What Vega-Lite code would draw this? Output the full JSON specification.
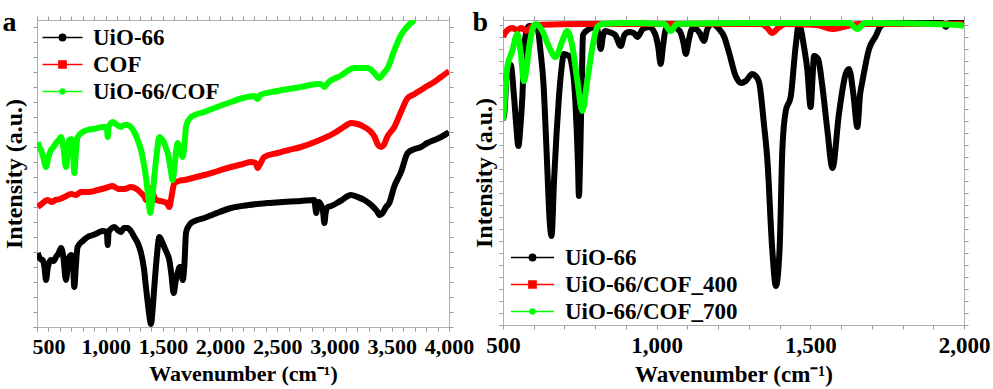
{
 "$schema": "https://vega.github.io/schema/vega-lite/v6.json",
 "padding": {"left": 2, "top": 8, "right": 2, "bottom": 0},
 "spacing": -3,
 "resolve": {"scale": {"color": "independent"}, "legend": {"color": "independent"}},
 "config": {
  "font": "Liberation Serif",
  "view": {"stroke": "#b0b0b0", "strokeWidth": 1},
  "axis": {"labelFont": "Liberation Serif", "labelFontWeight": "bold", "labelFontSize": 22, "labelColor": "#000000", "titleFont": "Liberation Serif", "titleFontWeight": "bold", "titleFontSize": 22, "titleColor": "#000000", "grid": false, "domainColor": "#b0b0b0", "tickColor": "#999999", "tickSize": 4, "labelPadding": 5, "titlePadding": 6},
  "legend": {"labelFont": "Liberation Serif", "labelFontWeight": "bold", "labelFontSize": 23, "labelColor": "#000000", "labelLimit": 400, "symbolSize": 256, "symbolStrokeWidth": 1.5, "labelOffset": 19, "rowPadding": 3, "padding": 0},
  "title": {"font": "Liberation Serif", "fontWeight": "bold", "fontSize": 28, "color": "#000000"}
 },
 "datasets": {
  "a": [
   {"sample":"UiO-66","wn":406,"intensity":74},{"sample":"UiO-66","wn":430,"intensity":68},{"sample":"UiO-66","wn":450,"intensity":67},{"sample":"UiO-66","wn":465,"intensity":60},{"sample":"UiO-66","wn":479,"intensity":47},{"sample":"UiO-66","wn":495,"intensity":60},{"sample":"UiO-66","wn":522,"intensity":67},{"sample":"UiO-66","wn":545,"intensity":66},{"sample":"UiO-66","wn":566,"intensity":70},{"sample":"UiO-66","wn":590,"intensity":74},{"sample":"UiO-66","wn":610,"intensity":79},{"sample":"UiO-66","wn":630,"intensity":70},{"sample":"UiO-66","wn":653,"intensity":47},{"sample":"UiO-66","wn":668,"intensity":60},{"sample":"UiO-66","wn":682,"intensity":70},{"sample":"UiO-66","wn":700,"intensity":72},{"sample":"UiO-66","wn":715,"intensity":62},{"sample":"UiO-66","wn":726,"intensity":40},{"sample":"UiO-66","wn":740,"intensity":62},{"sample":"UiO-66","wn":755,"intensity":80},{"sample":"UiO-66","wn":800,"intensity":86},{"sample":"UiO-66","wn":843,"intensity":90},{"sample":"UiO-66","wn":890,"intensity":92},{"sample":"UiO-66","wn":930,"intensity":94},{"sample":"UiO-66","wn":970,"intensity":96},{"sample":"UiO-66","wn":1010,"intensity":95},{"sample":"UiO-66","wn":1018,"intensity":82},{"sample":"UiO-66","wn":1026,"intensity":95},{"sample":"UiO-66","wn":1076,"intensity":100},{"sample":"UiO-66","wn":1105,"intensity":97},{"sample":"UiO-66","wn":1134,"intensity":95},{"sample":"UiO-66","wn":1160,"intensity":99},{"sample":"UiO-66","wn":1192,"intensity":99},{"sample":"UiO-66","wn":1220,"intensity":96},{"sample":"UiO-66","wn":1250,"intensity":90},{"sample":"UiO-66","wn":1280,"intensity":84},{"sample":"UiO-66","wn":1309,"intensity":74},{"sample":"UiO-66","wn":1335,"intensity":58},{"sample":"UiO-66","wn":1352,"intensity":40},{"sample":"UiO-66","wn":1368,"intensity":24},{"sample":"UiO-66","wn":1381,"intensity":12},{"sample":"UiO-66","wn":1396,"intensity":3},{"sample":"UiO-66","wn":1410,"intensity":17},{"sample":"UiO-66","wn":1425,"intensity":40},{"sample":"UiO-66","wn":1445,"intensity":68},{"sample":"UiO-66","wn":1469,"intensity":90},{"sample":"UiO-66","wn":1490,"intensity":86},{"sample":"UiO-66","wn":1512,"intensity":80},{"sample":"UiO-66","wn":1535,"intensity":74},{"sample":"UiO-66","wn":1556,"intensity":67},{"sample":"UiO-66","wn":1575,"intensity":52},{"sample":"UiO-66","wn":1594,"intensity":34},{"sample":"UiO-66","wn":1612,"intensity":46},{"sample":"UiO-66","wn":1629,"intensity":54},{"sample":"UiO-66","wn":1645,"intensity":60},{"sample":"UiO-66","wn":1660,"intensity":60},{"sample":"UiO-66","wn":1673,"intensity":47},{"sample":"UiO-66","wn":1688,"intensity":62},{"sample":"UiO-66","wn":1702,"intensity":94},{"sample":"UiO-66","wn":1720,"intensity":100},{"sample":"UiO-66","wn":1746,"intensity":104},{"sample":"UiO-66","wn":1800,"intensity":107},{"sample":"UiO-66","wn":1862,"intensity":109},{"sample":"UiO-66","wn":1950,"intensity":113},{"sample":"UiO-66","wn":2095,"intensity":119},{"sample":"UiO-66","wn":2250,"intensity":122},{"sample":"UiO-66","wn":2417,"intensity":124},{"sample":"UiO-66","wn":2550,"intensity":125},{"sample":"UiO-66","wn":2707,"intensity":126},{"sample":"UiO-66","wn":2822,"intensity":127},{"sample":"UiO-66","wn":2832,"intensity":120},{"sample":"UiO-66","wn":2840,"intensity":114},{"sample":"UiO-66","wn":2850,"intensity":122},{"sample":"UiO-66","wn":2862,"intensity":125},{"sample":"UiO-66","wn":2882,"intensity":122},{"sample":"UiO-66","wn":2900,"intensity":115},{"sample":"UiO-66","wn":2911,"intensity":104},{"sample":"UiO-66","wn":2922,"intensity":114},{"sample":"UiO-66","wn":2940,"intensity":120},{"sample":"UiO-66","wn":2970,"intensity":121},{"sample":"UiO-66","wn":3050,"intensity":126},{"sample":"UiO-66","wn":3144,"intensity":132},{"sample":"UiO-66","wn":3200,"intensity":130},{"sample":"UiO-66","wn":3260,"intensity":127},{"sample":"UiO-66","wn":3320,"intensity":122},{"sample":"UiO-66","wn":3370,"intensity":116},{"sample":"UiO-66","wn":3395,"intensity":112},{"sample":"UiO-66","wn":3420,"intensity":114},{"sample":"UiO-66","wn":3450,"intensity":120},{"sample":"UiO-66","wn":3478,"intensity":124},{"sample":"UiO-66","wn":3520,"intensity":140},{"sample":"UiO-66","wn":3581,"intensity":155},{"sample":"UiO-66","wn":3639,"intensity":174},{"sample":"UiO-66","wn":3700,"intensity":178},{"sample":"UiO-66","wn":3755,"intensity":180},{"sample":"UiO-66","wn":3810,"intensity":184},{"sample":"UiO-66","wn":3871,"intensity":187},{"sample":"UiO-66","wn":3930,"intensity":190},{"sample":"UiO-66","wn":3989,"intensity":194},{"sample":"UiO-66","wn":4000,"intensity":195},
   {"sample":"COF","wn":406,"intensity":120},{"sample":"COF","wn":440,"intensity":123},{"sample":"COF","wn":493,"intensity":127},{"sample":"COF","wn":530,"intensity":125},{"sample":"COF","wn":560,"intensity":127},{"sample":"COF","wn":600,"intensity":128},{"sample":"COF","wn":639,"intensity":130},{"sample":"COF","wn":700,"intensity":133},{"sample":"COF","wn":740,"intensity":132},{"sample":"COF","wn":784,"intensity":135},{"sample":"COF","wn":850,"intensity":135},{"sample":"COF","wn":930,"intensity":137},{"sample":"COF","wn":1000,"intensity":139},{"sample":"COF","wn":1061,"intensity":141},{"sample":"COF","wn":1110,"intensity":138},{"sample":"COF","wn":1163,"intensity":138},{"sample":"COF","wn":1221,"intensity":140},{"sample":"COF","wn":1270,"intensity":138},{"sample":"COF","wn":1309,"intensity":134},{"sample":"COF","wn":1340,"intensity":130},{"sample":"COF","wn":1352,"intensity":127},{"sample":"COF","wn":1375,"intensity":132},{"sample":"COF","wn":1396,"intensity":139},{"sample":"COF","wn":1415,"intensity":133},{"sample":"COF","wn":1440,"intensity":127},{"sample":"COF","wn":1480,"intensity":126},{"sample":"COF","wn":1512,"intensity":125},{"sample":"COF","wn":1535,"intensity":124},{"sample":"COF","wn":1556,"intensity":120},{"sample":"COF","wn":1575,"intensity":130},{"sample":"COF","wn":1600,"intensity":144},{"sample":"COF","wn":1640,"intensity":146},{"sample":"COF","wn":1687,"intensity":147},{"sample":"COF","wn":1760,"intensity":149},{"sample":"COF","wn":1862,"intensity":152},{"sample":"COF","wn":1980,"intensity":156},{"sample":"COF","wn":2095,"intensity":160},{"sample":"COF","wn":2200,"intensity":163},{"sample":"COF","wn":2270,"intensity":165},{"sample":"COF","wn":2310,"intensity":164},{"sample":"COF","wn":2328,"intensity":159},{"sample":"COF","wn":2345,"intensity":162},{"sample":"COF","wn":2386,"intensity":170},{"sample":"COF","wn":2500,"intensity":174},{"sample":"COF","wn":2600,"intensity":177},{"sample":"COF","wn":2707,"intensity":180},{"sample":"COF","wn":2850,"intensity":186},{"sample":"COF","wn":2998,"intensity":194},{"sample":"COF","wn":3080,"intensity":200},{"sample":"COF","wn":3144,"intensity":204},{"sample":"COF","wn":3200,"intensity":203},{"sample":"COF","wn":3260,"intensity":200},{"sample":"COF","wn":3310,"intensity":196},{"sample":"COF","wn":3350,"intensity":190},{"sample":"COF","wn":3380,"intensity":182},{"sample":"COF","wn":3406,"intensity":180},{"sample":"COF","wn":3430,"intensity":182},{"sample":"COF","wn":3460,"intensity":190},{"sample":"COF","wn":3522,"intensity":200},{"sample":"COF","wn":3580,"intensity":215},{"sample":"COF","wn":3639,"intensity":229},{"sample":"COF","wn":3700,"intensity":233},{"sample":"COF","wn":3755,"intensity":237},{"sample":"COF","wn":3810,"intensity":241},{"sample":"COF","wn":3871,"intensity":245},{"sample":"COF","wn":3930,"intensity":250},{"sample":"COF","wn":3989,"intensity":255},{"sample":"COF","wn":4000,"intensity":256},
   {"sample":"UiO-66/COF","wn":406,"intensity":185},{"sample":"UiO-66/COF","wn":420,"intensity":180},{"sample":"UiO-66/COF","wn":435,"intensity":177},{"sample":"UiO-66/COF","wn":455,"intensity":170},{"sample":"UiO-66/COF","wn":479,"intensity":160},{"sample":"UiO-66/COF","wn":500,"intensity":170},{"sample":"UiO-66/COF","wn":522,"intensity":177},{"sample":"UiO-66/COF","wn":545,"intensity":180},{"sample":"UiO-66/COF","wn":566,"intensity":184},{"sample":"UiO-66/COF","wn":590,"intensity":187},{"sample":"UiO-66/COF","wn":610,"intensity":190},{"sample":"UiO-66/COF","wn":630,"intensity":180},{"sample":"UiO-66/COF","wn":653,"intensity":160},{"sample":"UiO-66/COF","wn":668,"intensity":175},{"sample":"UiO-66/COF","wn":682,"intensity":187},{"sample":"UiO-66/COF","wn":700,"intensity":188},{"sample":"UiO-66/COF","wn":715,"intensity":175},{"sample":"UiO-66/COF","wn":726,"intensity":154},{"sample":"UiO-66/COF","wn":740,"intensity":175},{"sample":"UiO-66/COF","wn":755,"intensity":190},{"sample":"UiO-66/COF","wn":800,"intensity":195},{"sample":"UiO-66/COF","wn":843,"intensity":197},{"sample":"UiO-66/COF","wn":890,"intensity":198},{"sample":"UiO-66/COF","wn":930,"intensity":199},{"sample":"UiO-66/COF","wn":970,"intensity":200},{"sample":"UiO-66/COF","wn":1010,"intensity":200},{"sample":"UiO-66/COF","wn":1018,"intensity":190},{"sample":"UiO-66/COF","wn":1026,"intensity":200},{"sample":"UiO-66/COF","wn":1061,"intensity":205},{"sample":"UiO-66/COF","wn":1100,"intensity":202},{"sample":"UiO-66/COF","wn":1134,"intensity":200},{"sample":"UiO-66/COF","wn":1160,"intensity":202},{"sample":"UiO-66/COF","wn":1192,"intensity":202},{"sample":"UiO-66/COF","wn":1220,"intensity":200},{"sample":"UiO-66/COF","wn":1250,"intensity":195},{"sample":"UiO-66/COF","wn":1280,"intensity":187},{"sample":"UiO-66/COF","wn":1309,"intensity":177},{"sample":"UiO-66/COF","wn":1335,"intensity":162},{"sample":"UiO-66/COF","wn":1352,"intensity":150},{"sample":"UiO-66/COF","wn":1372,"intensity":130},{"sample":"UiO-66/COF","wn":1390,"intensity":114},{"sample":"UiO-66/COF","wn":1408,"intensity":130},{"sample":"UiO-66/COF","wn":1425,"intensity":150},{"sample":"UiO-66/COF","wn":1445,"intensity":172},{"sample":"UiO-66/COF","wn":1469,"intensity":190},{"sample":"UiO-66/COF","wn":1490,"intensity":188},{"sample":"UiO-66/COF","wn":1512,"intensity":184},{"sample":"UiO-66/COF","wn":1530,"intensity":178},{"sample":"UiO-66/COF","wn":1542,"intensity":174},{"sample":"UiO-66/COF","wn":1565,"intensity":160},{"sample":"UiO-66/COF","wn":1585,"intensity":147},{"sample":"UiO-66/COF","wn":1605,"intensity":165},{"sample":"UiO-66/COF","wn":1629,"intensity":184},{"sample":"UiO-66/COF","wn":1650,"intensity":178},{"sample":"UiO-66/COF","wn":1673,"intensity":170},{"sample":"UiO-66/COF","wn":1688,"intensity":182},{"sample":"UiO-66/COF","wn":1702,"intensity":200},{"sample":"UiO-66/COF","wn":1720,"intensity":206},{"sample":"UiO-66/COF","wn":1746,"intensity":210},{"sample":"UiO-66/COF","wn":1800,"intensity":213},{"sample":"UiO-66/COF","wn":1862,"intensity":215},{"sample":"UiO-66/COF","wn":1950,"intensity":219},{"sample":"UiO-66/COF","wn":2095,"intensity":225},{"sample":"UiO-66/COF","wn":2200,"intensity":229},{"sample":"UiO-66/COF","wn":2300,"intensity":231},{"sample":"UiO-66/COF","wn":2328,"intensity":228},{"sample":"UiO-66/COF","wn":2350,"intensity":232},{"sample":"UiO-66/COF","wn":2500,"intensity":236},{"sample":"UiO-66/COF","wn":2707,"intensity":240},{"sample":"UiO-66/COF","wn":2850,"intensity":243},{"sample":"UiO-66/COF","wn":2880,"intensity":243},{"sample":"UiO-66/COF","wn":2911,"intensity":240},{"sample":"UiO-66/COF","wn":2940,"intensity":244},{"sample":"UiO-66/COF","wn":3050,"intensity":251},{"sample":"UiO-66/COF","wn":3173,"intensity":259},{"sample":"UiO-66/COF","wn":3290,"intensity":259},{"sample":"UiO-66/COF","wn":3340,"intensity":255},{"sample":"UiO-66/COF","wn":3391,"intensity":249},{"sample":"UiO-66/COF","wn":3430,"intensity":254},{"sample":"UiO-66/COF","wn":3464,"intensity":259},{"sample":"UiO-66/COF","wn":3520,"intensity":276},{"sample":"UiO-66/COF","wn":3581,"intensity":292},{"sample":"UiO-66/COF","wn":3640,"intensity":301},{"sample":"UiO-66/COF","wn":3700,"intensity":307}
  ],
  "b": [
   {"sample":"UiO-66","wn":500,"intensity":205},{"sample":"UiO-66","wn":505,"intensity":214},{"sample":"UiO-66","wn":512,"intensity":250},{"sample":"UiO-66","wn":525,"intensity":260},{"sample":"UiO-66","wn":536,"intensity":228},{"sample":"UiO-66","wn":543,"intensity":200},{"sample":"UiO-66","wn":550,"intensity":179},{"sample":"UiO-66","wn":557,"intensity":200},{"sample":"UiO-66","wn":563,"intensity":228},{"sample":"UiO-66","wn":570,"intensity":282},{"sample":"UiO-66","wn":585,"intensity":299},{"sample":"UiO-66","wn":611,"intensity":298},{"sample":"UiO-66","wn":623,"intensity":271},{"sample":"UiO-66","wn":632,"intensity":240},{"sample":"UiO-66","wn":639,"intensity":194},{"sample":"UiO-66","wn":645,"intensity":150},{"sample":"UiO-66","wn":650,"intensity":114},{"sample":"UiO-66","wn":658,"intensity":89},{"sample":"UiO-66","wn":666,"intensity":144},{"sample":"UiO-66","wn":674,"intensity":190},{"sample":"UiO-66","wn":682,"intensity":228},{"sample":"UiO-66","wn":690,"intensity":255},{"sample":"UiO-66","wn":698,"intensity":271},{"sample":"UiO-66","wn":715,"intensity":269},{"sample":"UiO-66","wn":725,"intensity":258},{"sample":"UiO-66","wn":731,"intensity":244},{"sample":"UiO-66","wn":736,"intensity":220},{"sample":"UiO-66","wn":740,"intensity":194},{"sample":"UiO-66","wn":744,"intensity":160},{"sample":"UiO-66","wn":747,"intensity":129},{"sample":"UiO-66","wn":751,"intensity":166},{"sample":"UiO-66","wn":754,"intensity":210},{"sample":"UiO-66","wn":757,"intensity":250},{"sample":"UiO-66","wn":760,"intensity":290},{"sample":"UiO-66","wn":780,"intensity":296},{"sample":"UiO-66","wn":802,"intensity":298},{"sample":"UiO-66","wn":810,"intensity":292},{"sample":"UiO-66","wn":818,"intensity":276},{"sample":"UiO-66","wn":826,"intensity":290},{"sample":"UiO-66","wn":832,"intensity":294},{"sample":"UiO-66","wn":845,"intensity":293},{"sample":"UiO-66","wn":865,"intensity":290},{"sample":"UiO-66","wn":883,"intensity":279},{"sample":"UiO-66","wn":895,"intensity":290},{"sample":"UiO-66","wn":910,"intensity":293},{"sample":"UiO-66","wn":925,"intensity":292},{"sample":"UiO-66","wn":937,"intensity":288},{"sample":"UiO-66","wn":955,"intensity":296},{"sample":"UiO-66","wn":975,"intensity":298},{"sample":"UiO-66","wn":995,"intensity":291},{"sample":"UiO-66","wn":1005,"intensity":278},{"sample":"UiO-66","wn":1013,"intensity":261},{"sample":"UiO-66","wn":1021,"intensity":280},{"sample":"UiO-66","wn":1030,"intensity":296},{"sample":"UiO-66","wn":1046,"intensity":299},{"sample":"UiO-66","wn":1075,"intensity":294},{"sample":"UiO-66","wn":1086,"intensity":284},{"sample":"UiO-66","wn":1095,"intensity":271},{"sample":"UiO-66","wn":1104,"intensity":284},{"sample":"UiO-66","wn":1115,"intensity":296},{"sample":"UiO-66","wn":1127,"intensity":296},{"sample":"UiO-66","wn":1140,"intensity":292},{"sample":"UiO-66","wn":1154,"intensity":284},{"sample":"UiO-66","wn":1165,"intensity":296},{"sample":"UiO-66","wn":1181,"intensity":301},{"sample":"UiO-66","wn":1203,"intensity":296},{"sample":"UiO-66","wn":1220,"intensity":288},{"sample":"UiO-66","wn":1235,"intensity":273},{"sample":"UiO-66","wn":1257,"intensity":249},{"sample":"UiO-66","wn":1275,"intensity":242},{"sample":"UiO-66","wn":1290,"intensity":244},{"sample":"UiO-66","wn":1311,"intensity":251},{"sample":"UiO-66","wn":1322,"intensity":249},{"sample":"UiO-66","wn":1333,"intensity":243},{"sample":"UiO-66","wn":1349,"intensity":201},{"sample":"UiO-66","wn":1360,"intensity":166},{"sample":"UiO-66","wn":1376,"intensity":76},{"sample":"UiO-66","wn":1388,"intensity":39},{"sample":"UiO-66","wn":1400,"intensity":76},{"sample":"UiO-66","wn":1409,"intensity":176},{"sample":"UiO-66","wn":1420,"intensity":214},{"sample":"UiO-66","wn":1436,"intensity":228},{"sample":"UiO-66","wn":1452,"intensity":278},{"sample":"UiO-66","wn":1463,"intensity":301},{"sample":"UiO-66","wn":1479,"intensity":279},{"sample":"UiO-66","wn":1490,"intensity":256},{"sample":"UiO-66","wn":1501,"intensity":218},{"sample":"UiO-66","wn":1507,"intensity":246},{"sample":"UiO-66","wn":1512,"intensity":269},{"sample":"UiO-66","wn":1525,"intensity":266},{"sample":"UiO-66","wn":1539,"intensity":239},{"sample":"UiO-66","wn":1555,"intensity":196},{"sample":"UiO-66","wn":1572,"intensity":157},{"sample":"UiO-66","wn":1593,"intensity":211},{"sample":"UiO-66","wn":1615,"intensity":251},{"sample":"UiO-66","wn":1626,"intensity":256},{"sample":"UiO-66","wn":1640,"intensity":231},{"sample":"UiO-66","wn":1653,"intensity":198},{"sample":"UiO-66","wn":1662,"intensity":231},{"sample":"UiO-66","wn":1669,"intensity":243},{"sample":"UiO-66","wn":1691,"intensity":276},{"sample":"UiO-66","wn":1713,"intensity":289},{"sample":"UiO-66","wn":1729,"intensity":299},{"sample":"UiO-66","wn":1750,"intensity":302},{"sample":"UiO-66","wn":1850,"intensity":302},{"sample":"UiO-66","wn":1930,"intensity":302},{"sample":"UiO-66","wn":1941,"intensity":298},{"sample":"UiO-66","wn":1952,"intensity":302},{"sample":"UiO-66","wn":2000,"intensity":302},
   {"sample":"UiO-66/COF_400","wn":500,"intensity":288},{"sample":"UiO-66/COF_400","wn":507,"intensity":292},{"sample":"UiO-66/COF_400","wn":515,"intensity":295},{"sample":"UiO-66/COF_400","wn":530,"intensity":297},{"sample":"UiO-66/COF_400","wn":545,"intensity":295},{"sample":"UiO-66/COF_400","wn":560,"intensity":297},{"sample":"UiO-66/COF_400","wn":575,"intensity":294},{"sample":"UiO-66/COF_400","wn":590,"intensity":298},{"sample":"UiO-66/COF_400","wn":610,"intensity":300},{"sample":"UiO-66/COF_400","wn":760,"intensity":301},{"sample":"UiO-66/COF_400","wn":1340,"intensity":301},{"sample":"UiO-66/COF_400","wn":1360,"intensity":297},{"sample":"UiO-66/COF_400","wn":1376,"intensity":292},{"sample":"UiO-66/COF_400","wn":1395,"intensity":297},{"sample":"UiO-66/COF_400","wn":1420,"intensity":301},{"sample":"UiO-66/COF_400","wn":1520,"intensity":300},{"sample":"UiO-66/COF_400","wn":1572,"intensity":296},{"sample":"UiO-66/COF_400","wn":1620,"intensity":299},{"sample":"UiO-66/COF_400","wn":1660,"intensity":301},{"sample":"UiO-66/COF_400","wn":2000,"intensity":301},
   {"sample":"UiO-66/COF_700","wn":500,"intensity":205},{"sample":"UiO-66/COF_700","wn":503,"intensity":214},{"sample":"UiO-66/COF_700","wn":514,"intensity":258},{"sample":"UiO-66/COF_700","wn":530,"intensity":274},{"sample":"UiO-66/COF_700","wn":547,"intensity":291},{"sample":"UiO-66/COF_700","wn":558,"intensity":271},{"sample":"UiO-66/COF_700","wn":568,"intensity":244},{"sample":"UiO-66/COF_700","wn":576,"intensity":255},{"sample":"UiO-66/COF_700","wn":585,"intensity":278},{"sample":"UiO-66/COF_700","wn":606,"intensity":301},{"sample":"UiO-66/COF_700","wn":628,"intensity":294},{"sample":"UiO-66/COF_700","wn":650,"intensity":278},{"sample":"UiO-66/COF_700","wn":671,"intensity":268},{"sample":"UiO-66/COF_700","wn":693,"intensity":284},{"sample":"UiO-66/COF_700","wn":709,"intensity":294},{"sample":"UiO-66/COF_700","wn":726,"intensity":278},{"sample":"UiO-66/COF_700","wn":742,"intensity":244},{"sample":"UiO-66/COF_700","wn":758,"intensity":214},{"sample":"UiO-66/COF_700","wn":774,"intensity":244},{"sample":"UiO-66/COF_700","wn":791,"intensity":278},{"sample":"UiO-66/COF_700","wn":807,"intensity":298},{"sample":"UiO-66/COF_700","wn":823,"intensity":301},{"sample":"UiO-66/COF_700","wn":900,"intensity":302},{"sample":"UiO-66/COF_700","wn":1024,"intensity":301},{"sample":"UiO-66/COF_700","wn":1046,"intensity":294},{"sample":"UiO-66/COF_700","wn":1066,"intensity":301},{"sample":"UiO-66/COF_700","wn":1300,"intensity":302},{"sample":"UiO-66/COF_700","wn":1626,"intensity":302},{"sample":"UiO-66/COF_700","wn":1653,"intensity":296},{"sample":"UiO-66/COF_700","wn":1678,"intensity":302},{"sample":"UiO-66/COF_700","wn":1900,"intensity":301},{"sample":"UiO-66/COF_700","wn":1984,"intensity":300},{"sample":"UiO-66/COF_700","wn":2000,"intensity":299}
  ]
 },
 "hconcat": [
  {
   "width": 412,
   "height": 307,
   "title": {"text": "a", "anchor": "start", "frame": "bounds", "offset": -21},
   "data": {"name": "a"},
   "layer": [
    {
     "mark": {"type": "line", "strokeWidth": 6, "clip": true, "interpolate": "monotone"},
     "encoding": {
      "x": {"field": "wn", "type": "quantitative", "scale": {"domain": [400, 4000], "nice": false, "zero": false},
            "axis": {"orient": "bottom", "title": "Wavenumber (cm⁻¹)", "values": [400,500,600,700,800,900,1000,1100,1200,1300,1400,1500,1600,1700,1800,1900,2000,2100,2200,2300,2400,2500,2600,2700,2800,2900,3000,3100,3200,3300,3400,3500,3600,3700,3800,3900,4000], "labelExpr": "datum.value % 500 === 0 ? format(datum.value, ',') : ''", "labelOverlap": false, "labelFlush": false}},
      "y": {"field": "intensity", "type": "quantitative", "scale": {"domain": [0, 307], "nice": false, "zero": false},
            "axis": {"orient": "left", "labels": false, "title": "Intensity (a.u.)", "titleFontSize": 24, "values": [0,15,30,45,60,75,90,105,120,135,150,165,180,195,210,225,240,255,270,285,300]}},
      "color": {"field": "sample", "type": "nominal", "sort": null, "scale": {"domain": ["UiO-66", "COF", "UiO-66/COF"], "range": ["#000000", "#ff0000", "#00ff00"]},
        "legend": {"title": null, "orient": "none", "legendX": 14, "legendY": 6,
          "encode": {"symbols": {"update": {
            "shape": {"signal": "datum.value === 'COF' ? 'M-2.5,0H2.5M-0.45,-0.45H0.45V0.45H-0.45Z' : (datum.value === 'UiO-66/COF' ? 'M-2.5,0H2.5M-0.3,0A0.3,0.3,0,1,1,0.3,0A0.3,0.3,0,1,1,-0.3,0Z' : 'M-2.5,0H2.5M-0.4,0A0.4,0.4,0,1,1,0.4,0A0.4,0.4,0,1,1,-0.4,0Z')"},
            "fill": {"signal": "datum.value === 'COF' ? '#ff0000' : (datum.value === 'UiO-66/COF' ? '#00ff00' : '#000000')"},
            "opacity": {"value": 1}
          }}}}}
     }
    },
    {
     "mark": {"type": "line", "opacity": 0},
     "encoding": {
      "x": {"field": "wn", "type": "quantitative", "scale": {"domain": [400, 4000], "nice": false, "zero": false},
            "axis": {"orient": "top", "labels": false, "title": null, "values": [400,500,600,700,800,900,1000,1100,1200,1300,1400,1500,1600,1700,1800,1900,2000,2100,2200,2300,2400,2500,2600,2700,2800,2900,3000,3100,3200,3300,3400,3500,3600,3700,3800,3900,4000]}},
      "y": {"field": "intensity", "type": "quantitative", "scale": {"domain": [0, 307], "nice": false, "zero": false},
            "axis": {"orient": "right", "labels": false, "title": null, "values": [0,15,30,45,60,75,90,105,120,135,150,165,180,195,210,225,240,255,270,285,300]}}
     }
    }
   ],
   "resolve": {"axis": {"x": "independent", "y": "independent"}}
  },
  {
   "width": 461,
   "height": 305,
   "title": {"text": "b", "anchor": "start", "frame": "bounds", "offset": -21},
   "data": {"name": "b"},
   "layer": [
    {
     "mark": {"type": "line", "strokeWidth": 6, "clip": true, "interpolate": "monotone"},
     "encoding": {
      "x": {"field": "wn", "type": "quantitative", "scale": {"domain": [500, 2000], "nice": false, "zero": false},
            "axis": {"orient": "bottom", "title": "Wavenumber (cm⁻¹)", "titleFontSize": 23, "labelFontSize": 23, "values": [500,600,700,800,900,1000,1100,1200,1300,1400,1500,1600,1700,1800,1900,2000], "labelExpr": "datum.value % 500 === 0 ? format(datum.value, ',') : ''", "labelOverlap": false, "labelFlush": false}},
      "y": {"field": "intensity", "type": "quantitative", "scale": {"domain": [0, 305], "nice": false, "zero": false},
            "axis": {"orient": "left", "labels": false, "title": "Intensity (a.u.)", "titleFontSize": 24, "titlePadding": 2, "values": [0,12,24,36,48,60,72,84,96,108,120,132,144,156,168,180,192,204,216,228,240,252,264,276,288,300]}},
      "color": {"field": "sample", "type": "nominal", "sort": null, "scale": {"domain": ["UiO-66", "UiO-66/COF_400", "UiO-66/COF_700"], "range": ["#000000", "#ff0000", "#00ff00"]},
        "legend": {"title": null, "orient": "none", "legendX": 18, "legendY": 226, "labelOffset": 21,
          "encode": {"symbols": {"update": {
            "shape": {"signal": "datum.value === 'UiO-66/COF_400' ? 'M-2.7,0H2.7M-0.45,-0.45H0.45V0.45H-0.45Z' : (datum.value === 'UiO-66/COF_700' ? 'M-2.7,0H2.7M-0.3,0A0.3,0.3,0,1,1,0.3,0A0.3,0.3,0,1,1,-0.3,0Z' : 'M-2.7,0H2.7M-0.4,0A0.4,0.4,0,1,1,0.4,0A0.4,0.4,0,1,1,-0.4,0Z')"},
            "fill": {"signal": "datum.value === 'UiO-66/COF_400' ? '#ff0000' : (datum.value === 'UiO-66/COF_700' ? '#00ff00' : '#000000')"},
            "opacity": {"value": 1}
          }}}}}
     }
    },
    {
     "mark": {"type": "line", "opacity": 0},
     "encoding": {
      "x": {"field": "wn", "type": "quantitative", "scale": {"domain": [500, 2000], "nice": false, "zero": false},
            "axis": {"orient": "top", "labels": false, "title": null, "values": [500,600,700,800,900,1000,1100,1200,1300,1400,1500,1600,1700,1800,1900,2000]}},
      "y": {"field": "intensity", "type": "quantitative", "scale": {"domain": [0, 305], "nice": false, "zero": false},
            "axis": {"orient": "right", "labels": false, "title": null, "values": [0,12,24,36,48,60,72,84,96,108,120,132,144,156,168,180,192,204,216,228,240,252,264,276,288,300]}}
     }
    }
   ],
   "resolve": {"axis": {"x": "independent", "y": "independent"}}
  }
 ]
}
